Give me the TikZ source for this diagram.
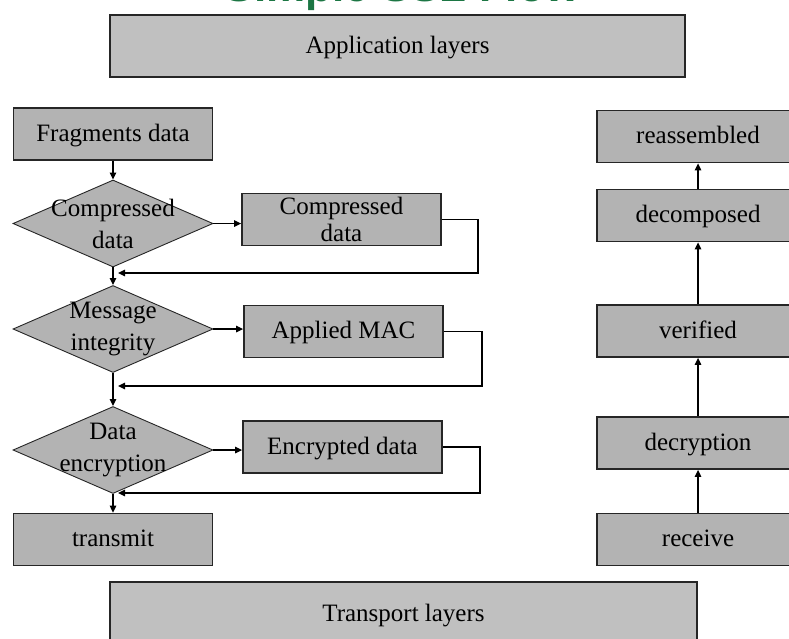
\documentclass[tikz,border=0pt]{standalone}
\usepackage{fontspec}
\setmainfont{Liberation Serif}
\newfontfamily\titlefont{Liberation Sans}
\usetikzlibrary{arrows.meta,shapes.geometric}
\definecolor{boxgray}{RGB}{179,179,179}
\definecolor{layergray}{RGB}{192,192,192}
\definecolor{edgegray}{RGB}{38,38,38}
\definecolor{titlegreen}{RGB}{28,118,68}
\begin{document}
\begin{tikzpicture}[x=1pt,y=-1pt,
  txt/.style={font=\fontsize{25}{28}\selectfont, align=center},
  stepbox/.style={txt, draw=edgegray, line width=1.8pt, fill=boxgray,
    minimum width=199pt, minimum height=52pt, inner sep=0pt,
    text height=17pt, text depth=3pt},
  layerbox/.style={stepbox, fill=layergray, minimum height=62pt},
  decision/.style={diamond, draw=edgegray, line width=0.9pt, fill=boxgray,
    minimum width=200pt, minimum height=87pt, inner sep=0pt},
  difftext/.style={txt, font=\fontsize{25}{32}\selectfont, inner sep=0pt},
  flow/.style={draw=black, line width=1.3pt,
    -{Triangle[length=7pt,width=6.5pt]}}
]
\clip (0,0) rectangle (789,638);
\fill[white] (0,0) rectangle (789,638);

% heading, partly cut off by the upper edge
\node[anchor=base, text=titlegreen,
  font=\titlefont\bfseries\fontsize{44}{44}\selectfont] (title) at (402,1.5) {Simple SSL Flow};

% layer bars
\node[layerbox, minimum width=575pt] (app) at (397.5,46) {Application layers};
\node[layerbox, minimum width=587pt, minimum height=64pt] (transport) at (403.5,614) {Transport layers};

% sending side
\node[stepbox] (frag) at (113,134) {Fragments data};
\node[decision, label={[difftext]center:Compressed\\data}] (d1) at (113,223.5) {};
\node[stepbox, text height=, text depth=] (comp) at (341.5,219.5) {\fontsize{25}{28}\selectfont Compressed\\[-1pt]data};
\node[decision, label={[difftext]center:Message\\integrity}] (d2) at (113,329) {};
\node[stepbox] (mac) at (343.5,331.5) {Applied MAC};
\node[decision, label={[difftext]center:Data\\encryption}] (d3) at (113,450) {};
\node[stepbox] (enc) at (342.5,447) {Encrypted data};
\node[stepbox] (transmit) at (113,539.5) {transmit};

% receiving side
\node[stepbox, minimum width=202pt] (reasm) at (698,136.5) {reassembled};
\node[stepbox, minimum width=202pt] (decomp) at (698,215.5) {decomposed};
\node[stepbox, minimum width=202pt] (verif) at (698,331) {verified};
\node[stepbox, minimum width=202pt] (decr) at (698,443) {decryption};
\node[stepbox, minimum width=202pt] (recv) at (698,539.5) {receive};

% return points beside the main flow line
\coordinate (r1) at (118,273);
\coordinate (r2) at (118,386);
\coordinate (r3) at (118,493);

% main sending flow
\draw[flow] (frag.south) -- (d1.north);
\draw[flow] (d1.south) -- (d2.north);
\draw[flow] (d2.south) -- (d3.north);
\draw[flow] (d3.south) -- (transmit.north);

% side steps, level with each diamond's right corner
\draw[flow] (d1.east) -- (d1.east -| comp.west);
\draw[flow] (d2.east) -- (d2.east -| mac.west);
\draw[flow] (d3.east) -- (d3.east -| enc.west);

% results returning to the main flow
\draw[flow] (comp.east) -- (478,219.5) -- (478,273) -- (r1);
\draw[flow] (mac.east) -- (482,331.5) -- (482,386) -- (r2);
\draw[flow] (enc.east) -- (480,447) -- (480,493) -- (r3);

% receiving flow
\draw[flow] (recv.north) -- (decr.south);
\draw[flow] (decr.north) -- (verif.south);
\draw[flow] (verif.north) -- (decomp.south);
\draw[flow] (decomp.north) -- (reasm.south);
\end{tikzpicture}
\end{document}
